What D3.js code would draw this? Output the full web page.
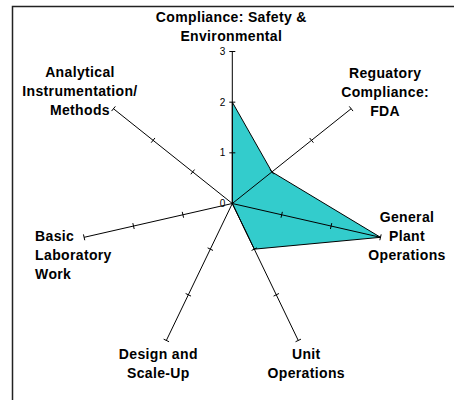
<!DOCTYPE html>
<html>
<head>
<meta charset="utf-8">
<script src="https://cdn.jsdelivr.net/npm/d3@7"></script>
<style>
  body { margin: 0; background: #fff; }
  svg { display: block; }
  .cat { font-family: Arial, "Liberation Sans", sans-serif; font-weight: bold; font-size: 14px; letter-spacing: 0.35px; fill: #000; }
  .tick-label { font-family: Arial, "Liberation Sans", sans-serif; font-size: 10px; fill: #000; }
</style>
</head>
<body>
<script>
// categories (clockwise from top), values and axis ticks
var categories = [
  "Compliance: Safety &\nEnvironmental",
  "Reguatory\nCompliance:\nFDA",
  "General\nPlant\nOperations",
  "Unit\nOperations",
  "Design and\nScale-Up",
  "Basic\nLaboratory\nWork",
  "Analytical\nInstrumentation/\nMethods"
];
var values = [2, 1, 3, 1, 0, 0, 0];
var tickValues = [0, 1, 2, 3];

// label placement relative to the end of each spoke
var labelLayout = [
  {dx: -1,   dy: -34.5, anchor: "middle"},
  {dx: 34,   dy: -35.5, anchor: "middle"},
  {dx: 26.5, dy: -20,   anchor: "middle"},
  {dx: 8,    dy: 13.5,  anchor: "middle"},
  {dx: -8,   dy: 13.5,  anchor: "middle"},
  {dx: -49,  dy: -1.5,  anchor: "start"},
  {dx: -33.5,dy: -36.5, anchor: "middle"}
];

var width = 454,
    height = 400,
    cx = 232.3,
    cy = 203.5,
    lineH = 19;

var svg = d3.select("body")
  .append("svg")
  .attr("width", width)
  .attr("height", height);

// frame
svg.append("rect")
    .attr("x", 12.5)
    .attr("y", 6.5)
    .attr("width", 470)
    .attr("height", 420)
    .attr("fill", "none")
    .attr("stroke", "#222")
    .attr("stroke-width", 1.5);

var r = d3.scaleLinear()
    .domain([0, d3.max(tickValues)])
    .range([0, 152]);

var angle = d3.scaleBand()
    .domain(d3.range(categories.length))
    .range([0, 2 * Math.PI]);

function pt(i, v) {
  var a = angle(i);
  return [cx + r(v) * Math.sin(a), cy - r(v) * Math.cos(a)];
}

var g = svg.append("g");

// data polygon
var radial = d3.lineRadial()
    .angle(function(d, i) { return angle(i); })
    .radius(function(d) { return r(d); })
    .curve(d3.curveLinearClosed);

g.append("path")
    .datum(values)
    .attr("transform", "translate(" + cx + "," + cy + ")")
    .attr("d", radial)
    .attr("fill", "#33CCCC")
    .attr("stroke", "#000")
    .attr("stroke-width", 1);

// spokes
var maxV = d3.max(tickValues);
g.selectAll("line.spoke")
  .data(categories)
  .enter().append("line")
    .attr("class", "spoke")
    .attr("x1", cx)
    .attr("y1", cy)
    .attr("x2", function(d, i) { return pt(i, maxV)[0]; })
    .attr("y2", function(d, i) { return pt(i, maxV)[1]; })
    .attr("stroke", "#000")
    .attr("stroke-width", 1);

// tick marks across each spoke
var tickLen = 3;
categories.forEach(function(c, i) {
  var a = angle(i);
  var px = Math.cos(a), py = Math.sin(a);
  g.selectAll(null)
    .data(tickValues.filter(function(t) { return t > 0; }))
    .enter().append("line")
      .attr("x1", function(t) { return pt(i, t)[0] - px * tickLen; })
      .attr("y1", function(t) { return pt(i, t)[1] - py * tickLen; })
      .attr("x2", function(t) { return pt(i, t)[0] + px * tickLen; })
      .attr("y2", function(t) { return pt(i, t)[1] + py * tickLen; })
      .attr("stroke", "#000")
      .attr("stroke-width", 1);
});

// value labels on the top spoke
g.selectAll("text.tick-label")
  .data(tickValues)
  .enter().append("text")
    .attr("class", "tick-label")
    .attr("x", cx - 7)
    .attr("y", function(t) { return cy - r(t) + 3.5; })
    .attr("text-anchor", "end")
    .text(function(t) { return t; });

// category labels
categories.forEach(function(c, i) {
  var p = pt(i, maxV), L = labelLayout[i];
  var t = g.append("text")
      .attr("class", "cat")
      .attr("text-anchor", L.anchor);
  c.split("\n").forEach(function(line, k) {
    t.append("tspan")
      .attr("x", p[0] + L.dx)
      .attr("y", p[1] + L.dy + k * lineH + 5)
      .text(line);
  });
});
</script>
</body>
</html>
